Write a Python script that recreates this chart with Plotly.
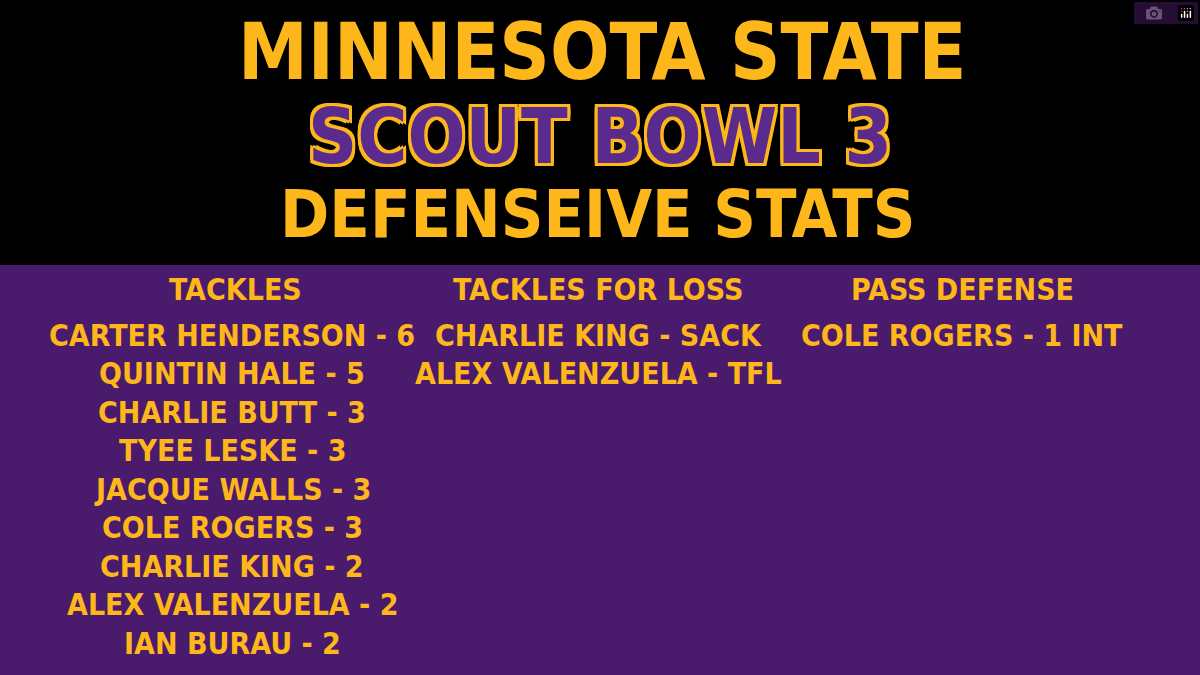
import plotly.graph_objects as go

GOLD = "#fdb71a"
PURPLE = "#4a1a6c"
TITLE_PURPLE = "#5a2a8c"
FONT = "DejaVu Sans Condensed, DejaVu Sans"

title_lines = ["MINNESOTA STATE", "SCOUT BOWL 3", "DEFENSEIVE STATS"]

headers = ["TACKLES", "TACKLES FOR LOSS", "PASS DEFENSE"]
tackle_players = ["CARTER HENDERSON", "QUINTIN HALE", "CHARLIE BUTT", "TYEE LESKE",
                  "JACQUE WALLS", "COLE ROGERS", "CHARLIE KING", "ALEX VALENZUELA", "IAN BURAU"]
tackle_counts = [6, 5, 3, 3, 3, 3, 2, 2, 2]
tfl_players = ["CHARLIE KING", "ALEX VALENZUELA"]
tfl_types = ["SACK", "TFL"]
pd_players = ["COLE ROGERS"]
pd_types = ["1 INT"]

col_x = [235, 598, 962]

fig = go.Figure()
fig.add_shape(type="rect", x0=0, x1=1200, y0=0, y1=265, fillcolor="black", line_width=0, layer="below")
fig.add_shape(type="rect", x0=0, x1=1200, y0=265, y1=675, fillcolor=PURPLE, line_width=0, layer="below")

ann = []
def txt(x, y, s, size, color=GOLD, shadow=None):
    f = dict(family=FONT, size=size, color=color, weight="bold")
    if shadow:
        f["shadow"] = shadow
    ann.append(dict(x=x, y=y, text=s, showarrow=False, xref="x", yref="y",
                    xanchor="center", yanchor="middle", font=f))

outline = ", ".join(f"{dx}px {dy}px 0 {GOLD}" for dx in (-3, 0, 3) for dy in (-3, 0, 3))
txt(602, 52, title_lines[0], 78)
txt(600, 136, title_lines[1], 76, TITLE_PURPLE, outline)
txt(598, 214, title_lines[2], 66)

for x, h in zip(col_x, headers):
    txt(x, 289, h, 30)

row_y = lambda i: 335 + i * 38.5
for i, (p, c) in enumerate(zip(tackle_players, tackle_counts)):
    txt(232, row_y(i), f"{p} - {c}", 30)
for i, (p, t) in enumerate(zip(tfl_players, tfl_types)):
    txt(598, row_y(i), f"{p} - {t}", 30)
for i, (p, t) in enumerate(zip(pd_players, pd_types)):
    txt(962, row_y(i), f"{p} - {t}", 30)

fig.update_layout(
    width=1200, height=675, margin=dict(l=0, r=0, t=0, b=0),
    paper_bgcolor=PURPLE, plot_bgcolor=PURPLE, showlegend=False,
    xaxis=dict(range=[0, 1200], visible=False, fixedrange=True),
    yaxis=dict(range=[675, 0], visible=False, fixedrange=True),
    annotations=ann,
)
fig.write_html("out.html", post_script="document.body.style.margin='0';document.body.style.overflow='hidden';")
